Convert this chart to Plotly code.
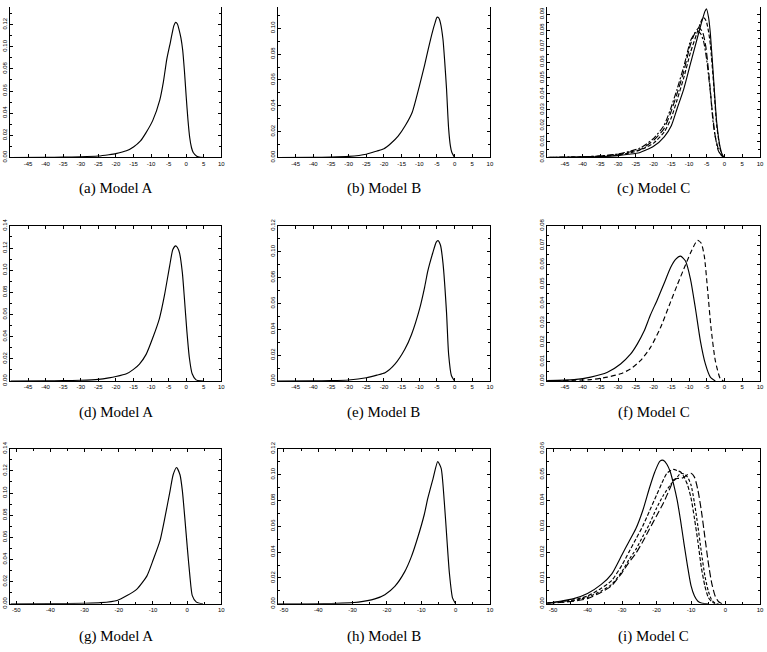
import plotly.graph_objects as go

# ---------------- data ----------------
# (a) Model A
a_x = [-50, -40, -35, -30, -25, -22, -20, -17, -15, -13, -11.5, -9.5, -7.5, -6.5, -5.5, -4.5, -4, -3.5, -3, -2.5, -2, -1.5, -1, -0.5, 0, 0.5, 1, 1.5, 2, 3, 4, 5]
a_y = [0, 0.0001, 0.0003, 0.0006, 0.0013, 0.0025, 0.0035, 0.006, 0.0095, 0.015, 0.022, 0.0335, 0.052, 0.068, 0.089, 0.104, 0.112, 0.119, 0.122, 0.1205, 0.115, 0.108, 0.097, 0.078, 0.055, 0.034, 0.018, 0.009, 0.0045, 0.0012, 0.0002, 0]
# (b) Model B
b_x = [-50, -40, -35, -30, -25, -22, -20, -18, -16, -14, -12, -10, -8.5, -7.5, -6.2, -5.5, -5, -4.5, -4, -3.3, -2.8, -2.3, -1.7, -1.2, -0.8, 0]
b_y = [0, 0.0001, 0.0003, 0.0008, 0.0025, 0.005, 0.0068, 0.011, 0.0165, 0.0245, 0.035, 0.055, 0.0715, 0.0835, 0.098, 0.1045, 0.1085, 0.108, 0.104, 0.0915, 0.074, 0.0535, 0.0225, 0.009, 0.004, 0]
# (c) Model C, four series
c1_x = [-50, -40, -35, -30, -27, -24, -20, -17, -15, -13.4, -11.5, -9.6, -7.8, -6.4, -5.5, -5.1, -4.5, -4, -3.1, -2.2, -1.2, -0.5, 0]
c1_y = [0, 0.0002, 0.0005, 0.0012, 0.002, 0.003, 0.007, 0.013, 0.020, 0.0305, 0.043, 0.059, 0.074, 0.0855, 0.092, 0.0935, 0.088, 0.078, 0.05, 0.022, 0.006, 0.001, 0]
c2_x = [-50, -40, -35, -30, -27, -24, -20, -17, -15, -13.4, -11.5, -9.6, -7.8, -6.8, -6, -5.2, -4.5, -4, -3.1, -2.2, -1.2, -0.5, 0]
c2_y = [0, 0.0003, 0.0007, 0.0016, 0.0027, 0.0045, 0.009, 0.016, 0.025, 0.036, 0.05, 0.066, 0.078, 0.0845, 0.088, 0.086, 0.079, 0.071, 0.047, 0.02, 0.005, 0.001, 0]
c3_x = [-50, -40, -35, -30, -27, -23.7, -19.9, -17.1, -15.2, -13.4, -11.5, -9.6, -8.7, -7.8, -6.8, -5.9, -5, -4, -3.1, -1.7, -0.3]
c3_y = [0, 0.0004, 0.001, 0.0022, 0.0037, 0.006, 0.0122, 0.020, 0.0305, 0.0428, 0.057, 0.0733, 0.077, 0.0795, 0.078, 0.073, 0.061, 0.041, 0.020, 0.004, 0]
c4_x = [-50, -40, -35, -30, -27, -23.7, -19.9, -17.1, -15.2, -13.4, -11.5, -9.6, -8.2, -7.2, -6.2, -5.3, -4.4, -3.5, -2.6, -1.4, -0.3]
c4_y = [0, 0.0003, 0.0009, 0.002, 0.0033, 0.005, 0.011, 0.018, 0.028, 0.040, 0.054, 0.071, 0.079, 0.0815, 0.079, 0.07, 0.052, 0.030, 0.013, 0.003, 0]
# (d) Model A
d_x = [-50, -40, -35, -30, -25, -22, -20, -17, -15, -13.3, -11.4, -9.5, -7.6, -6.2, -4.7, -3.8, -3, -2.5, -1.9, -1.1, -0.5, 0.2, 0.9, 1.7, 2.8, 4, 5]
d_y = [0, 0.0001, 0.0003, 0.0007, 0.0015, 0.0028, 0.004, 0.0065, 0.0105, 0.0153, 0.024, 0.039, 0.0566, 0.077, 0.104, 0.1186, 0.122, 0.1205, 0.1156, 0.098, 0.0743, 0.0448, 0.021, 0.0065, 0.001, 0.0001, 0]
# (e) Model B
e_x = [-50, -40, -35, -30, -25, -22, -19.7, -16.9, -14.1, -12.2, -9.9, -8.5, -7.6, -6.2, -5.2, -4.7, -4, -3.3, -2.3, -1.7, -0.9, 0]
e_y = [0, 0.0001, 0.0003, 0.0008, 0.0025, 0.0045, 0.0063, 0.013, 0.0245, 0.036, 0.056, 0.0725, 0.085, 0.099, 0.1075, 0.1086, 0.105, 0.0914, 0.0535, 0.0207, 0.004, 0]
# (f) Model C, two series
f1_x = [-50, -42.4, -37.7, -33, -29.3, -26.5, -24.6, -22.7, -20.9, -19, -17.1, -15.2, -13.8, -12.4, -11, -9.6, -8.2, -6.8, -5.4, -4, -2.6]
f1_y = [0.0002, 0.0007, 0.002, 0.0045, 0.0088, 0.0138, 0.019, 0.0256, 0.034, 0.0417, 0.050, 0.0585, 0.0627, 0.0644, 0.0619, 0.0526, 0.0374, 0.0206, 0.0088, 0.002, 0]
f2_x = [-50, -37.7, -33, -29.3, -26.5, -23.7, -20.9, -18.1, -15.2, -13.4, -11.5, -9.6, -8.2, -7.6, -6.6, -5.7, -4.8, -3.8, -2.6, -1.2, -0.3]
f2_y = [0.0001, 0.0007, 0.002, 0.0037, 0.0062, 0.0105, 0.0172, 0.0273, 0.0408, 0.0492, 0.0577, 0.066, 0.0712, 0.0725, 0.0712, 0.0644, 0.0476, 0.0273, 0.0105, 0.0012, 0]
# (g) Model A
g_x = [-51.7, -40, -30, -25.3, -20.5, -17.6, -14.7, -11.8, -9.9, -7.9, -6.5, -5.0, -4.1, -3.1, -2.1, -1.4, -0.7, 0.1, 0.8, 1.5, 2.7, 4.6]
g_y = [0, 0.0001, 0.0005, 0.001, 0.003, 0.0074, 0.0133, 0.025, 0.040, 0.0575, 0.078, 0.102, 0.1165, 0.123, 0.1165, 0.102, 0.078, 0.0487, 0.025, 0.0074, 0.0015, 0]
# (h) Model B
h_x = [-51.7, -38, -28.3, -23.5, -20.6, -17.7, -14.8, -12.9, -11, -9.1, -8.1, -6.6, -5.2, -4.2, -3.3, -2.5, -1.8, -0.9, 0]
h_y = [0, 0.0001, 0.0013, 0.0038, 0.0071, 0.0135, 0.0249, 0.0363, 0.0515, 0.0693, 0.0815, 0.0965, 0.11, 0.1048, 0.0794, 0.049, 0.0236, 0.0046, 0]
# (i) Model C, four series
i1_x = [-51.7, -48, -44, -40, -36, -33, -30, -28, -26, -24, -22, -20.5, -19, -18, -17, -16, -15, -14, -13, -12, -11, -10, -9, -8, -7, -6, -5]
i1_y = [0.0003, 0.001, 0.002, 0.004, 0.0075, 0.0115, 0.019, 0.024, 0.029, 0.036, 0.045, 0.051, 0.0552, 0.0555, 0.054, 0.051, 0.046, 0.04, 0.032, 0.023, 0.0145, 0.007, 0.003, 0.001, 0.0003, 0.0001, 0]
i2_x = [-51.7, -48, -44, -40, -36, -33, -30, -28, -26, -24, -22, -20, -18, -17, -16, -15, -14, -13, -12, -11, -10, -9, -8, -7, -6, -5, -4, -3]
i2_y = [0.0003, 0.0008, 0.0015, 0.003, 0.006, 0.009, 0.015, 0.02, 0.025, 0.03, 0.036, 0.042, 0.048, 0.0505, 0.0515, 0.052, 0.0515, 0.051, 0.049, 0.046, 0.041, 0.033, 0.024, 0.014, 0.007, 0.0025, 0.0008, 0]
i3_x = [-51.7, -48, -44, -40, -36, -33, -30, -28, -26, -24, -22, -20, -18, -16, -14, -13, -12, -11, -10, -9, -8, -7, -6, -5, -4, -3, -2]
i3_y = [0.0002, 0.0006, 0.0012, 0.0025, 0.005, 0.0075, 0.0125, 0.017, 0.021, 0.026, 0.031, 0.037, 0.042, 0.046, 0.049, 0.0505, 0.0502, 0.049, 0.046, 0.039, 0.03, 0.02, 0.011, 0.005, 0.0015, 0.0003, 0]
i4_x = [-51.7, -48, -44, -40, -36, -33, -30, -28, -26, -24, -22, -20, -18, -16, -15, -14, -13, -12, -11, -10, -9, -8, -7, -6, -5, -4, -3, -2, -1]
i4_y = [0.0002, 0.0005, 0.001, 0.002, 0.0045, 0.007, 0.012, 0.016, 0.0195, 0.024, 0.029, 0.034, 0.039, 0.045, 0.048, 0.0485, 0.0485, 0.049, 0.050, 0.0505, 0.049, 0.044, 0.036, 0.026, 0.016, 0.008, 0.003, 0.0008, 0]

captions = ["(a) Model A", "(b) Model B", "(c) Model C",
            "(d) Model A", "(e) Model B", "(f) Model C",
            "(g) Model A", "(h) Model B", "(i) Model C"]
xtick_rows12 = [-45, -40, -35, -30, -25, -20, -15, -10, -5, 0, 5, 10]
xtick_row3 = [-50, -40, -30, -20, -10, 0, 10]

# ---------------- layout geometry (pixels) ----------------
W, H = 767, 652
cols_px = [(10.5, 222.5), (279.5, 492.5), (550, 764)]
rows_px = [(-4.7, 153.3), (223, 381), (450, 608)]
caption_y_px = [185, 413, 641]

panels = [
    ([(a_x, a_y)], 0.14, 0.02, 0.01),
    ([(b_x, b_y)], 0.12, 0.02, 0.01),
    ([(c1_x, c1_y), (c2_x, c2_y), (c3_x, c3_y), (c4_x, c4_y)], 0.0975, 0.01, 0.005),
    ([(d_x, d_y)], 0.14, 0.02, 0.01),
    ([(e_x, e_y)], 0.12, 0.02, 0.01),
    ([(f1_x, f1_y), (f2_x, f2_y)], 0.08, 0.01, 0.005),
    ([(g_x, g_y)], 0.14, 0.02, 0.01),
    ([(h_x, h_y)], 0.12, 0.02, 0.01),
    ([(i1_x, i1_y), (i2_x, i2_y), (i3_x, i3_y), (i4_x, i4_y)], 0.06, 0.01, 0.005),
]
panel_dashes = {
    2: ["solid", "4px,2px", "6px,2px,2px,2px", "7px,3px"],
    5: ["solid", "5px,3px"],
    8: ["solid", "4px,2px", "3px,2px", "7px,3px"],
}

fig = go.Figure()
layout = dict(width=W, height=H, margin=dict(l=0, r=0, t=0, b=0),
              paper_bgcolor="white", plot_bgcolor="white", showlegend=False,
              annotations=[])
tickfont = dict(family="Liberation Sans", size=6, color="#000000")

for k, (series, ytop, dt, mdt) in enumerate(panels):
    r, c = divmod(k, 3)
    n = k + 1
    xa = "x" if n == 1 else f"x{n}"
    ya = "y" if n == 1 else f"y{n}"
    dashes = panel_dashes.get(k, ["solid"])
    for j, (sx, sy) in enumerate(series):
        fig.add_trace(go.Scatter(x=sx, y=sy, xaxis=xa, yaxis=ya, mode="lines",
                                 line=dict(color="black", width=1.15, dash=dashes[j],
                                           shape="spline", smoothing=0.6),
                                 hoverinfo="skip"))
    x0, x1 = cols_px[c]
    yt, yb = rows_px[r]
    visible_top = max(yt, 0)
    y_hi = ytop * (yb - visible_top) / (yb - yt)
    ydom = [1 - yb / H, 1 - visible_top / H]
    xdom = [x0 / W, x1 / W]
    if r < 2:
        xr = [-50, 10]
        xt = dict(tickmode="array", tickvals=xtick_rows12,
                  ticktext=[str(v) for v in xtick_rows12])
        xminor = dict()
    else:
        xr = [-51.7, 10]
        xt = dict(tickmode="array", tickvals=xtick_row3,
                  ticktext=[str(v) for v in xtick_row3])
        xminor = dict(minor=dict(ticks="inside", ticklen=2, dtick=5, tick0=0,
                                 tickcolor="black", showgrid=False))
    axx = dict(domain=xdom, range=xr, anchor=ya, showline=True,
               linecolor="black", linewidth=1, mirror=("ticks" if r > 0 else False),
               ticks="inside", ticklen=3, tickcolor="black", tickfont=tickfont,
               showgrid=False, zeroline=False, fixedrange=True, **xt, **xminor)
    axy = dict(domain=ydom, range=[0, y_hi], anchor=xa, showline=True,
               linecolor="black", linewidth=1, mirror="ticks",
               ticks="inside", ticklen=3, tickcolor="black", tickfont=tickfont,
               tickangle=-90, tickformat=".2f", dtick=dt, tick0=0,
               minor=dict(ticks="inside", ticklen=2, dtick=mdt, tick0=0,
                          tickcolor="black", showgrid=False),
               showgrid=False, zeroline=False, fixedrange=True)
    layout["xaxis" if n == 1 else f"xaxis{n}"] = axx
    layout["yaxis" if n == 1 else f"yaxis{n}"] = axy
    layout["annotations"].append(dict(
        text=captions[k], xref="paper", yref="paper",
        x=(x0 + x1) / 2 / W, y=1 - caption_y_px[r] / H,
        xanchor="center", yanchor="middle", showarrow=False,
        font=dict(family="Liberation Serif", size=15, color="black")))

fig.update_layout(**layout)
fig.write_html("out.html")
